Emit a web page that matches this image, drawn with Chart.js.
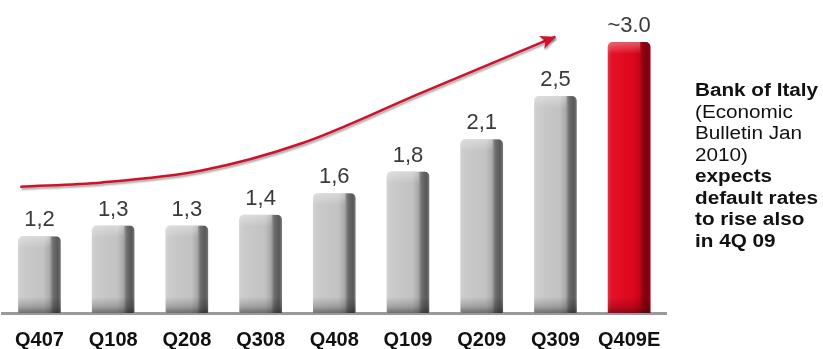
<!DOCTYPE html>
<html>
<head>
<meta charset="utf-8">
<script src="https://cdn.jsdelivr.net/npm/chart.js@4.4.0/dist/chart.umd.min.js"></script>
<style>
    html, body { margin: 0; padding: 0; background: #fff; }
    #wrap { position: relative; width: 823px; height: 349px; }
    #note {
        position: absolute;
        left: 695px;
        top: 80px;
        font: 18px "Liberation Sans", Arial, sans-serif;
        line-height: 21.5px;
        color: #111;
        white-space: nowrap;
        transform: scaleX(1.15);
        transform-origin: 0 0;
    }
</style>
</head>
<body>
<div id="wrap">
    <canvas id="chart" width="823" height="349"></canvas>
    <div id="note"><b>Bank of Italy</b><br>(Economic<br>Bulletin Jan<br>2010)<br><b>expects<br>default rates<br>to rise also<br>in 4Q 09</b></div>
</div>
<script>
// Quarters and default rates
const quarters = ["Q407", "Q108", "Q208", "Q308", "Q408", "Q109", "Q209", "Q309", "Q409E"];
const defaultRates = [1.2, 1.3, 1.3, 1.4, 1.6, 1.8, 2.1, 2.5, 3.0];
const rateLabels = ["1,2", "1,3", "1,3", "1,4", "1,6", "1,8", "2,1", "2,5", "~3.0"];
const isEstimate = [false, false, false, false, false, false, false, false, true];

// Trend arrow path (x in category units, y in rate units)
const trendX = [-0.26, 0.85, 2.2, 3.55, 5.18, 7.0];
const trendY = [1.66, 1.70, 1.81, 2.06, 2.53, 3.05];

// value axis window (bars stand on the floor at Y_MIN)
const Y_MIN = 0.49;
const Y_MAX = 3.39;

const GREY = "#c9c9c9";
const RED = "#e3061d";
const ARROW_RED = "#d1102a";

const barColors = isEstimate.map((e) => (e ? RED : GREY));
const trendPoints = trendX.map((x, i) => ({ x: x, y: trendY[i] }));

// Bevel / shading over each bar, then value labels on top
const barDecor = {
    id: "barDecor",
    afterDatasetsDraw(chart) {
        const ctx = chart.ctx;
        const meta = chart.getDatasetMeta(0);

        meta.data.forEach((bar, i) => {
            const { x, y, base, width } = bar.getProps(["x", "y", "base", "width"], true);
            const left = x - width / 2;
            const h = base - y;
            const dark = isEstimate[i] ? "60,0,8" : "20,20,20";

            ctx.save();
            ctx.beginPath();
            ctx.roundRect(left, y, width, h, [5, 5, 0, 0]);
            ctx.clip();

            // side shading, darker toward the right edge
            const gx = ctx.createLinearGradient(left, 0, left + width, 0);
            gx.addColorStop(0, "rgba(255,255,255,0.18)");
            gx.addColorStop(0.08, "rgba(255,255,255,0.05)");
            gx.addColorStop(0.6, "rgba(" + dark + ",0.04)");
            gx.addColorStop(0.74, "rgba(" + dark + ",0.18)");
            gx.addColorStop(0.82, "rgba(" + dark + ",0.50)");
            gx.addColorStop(0.93, "rgba(" + dark + ",0.62)");
            gx.addColorStop(1, "rgba(" + dark + ",0.45)");
            ctx.fillStyle = gx;
            ctx.fillRect(left, y, width, h);

            // top bevel highlight
            const gt = ctx.createLinearGradient(0, y, 0, y + 12);
            gt.addColorStop(0, "rgba(255,255,255,0.35)");
            gt.addColorStop(1, "rgba(255,255,255,0)");
            ctx.fillStyle = gt;
            ctx.fillRect(left, y, width * 0.76, 12);

            // shadow near the floor
            const gb = ctx.createLinearGradient(0, base - 16, 0, base);
            gb.addColorStop(0, "rgba(" + dark + ",0)");
            gb.addColorStop(0.6, "rgba(" + dark + ",0.22)");
            gb.addColorStop(1, "rgba(" + dark + ",0.5)");
            ctx.fillStyle = gb;
            ctx.fillRect(left, base - 16, width, 16);
            ctx.restore();

            // value label
            ctx.save();
            ctx.font = '22px "Liberation Sans", Arial, sans-serif';
            ctx.fillStyle = "#3a3a3a";
            ctx.textAlign = "center";
            ctx.textBaseline = "alphabetic";
            ctx.fillText(rateLabels[i], x, y - 10);
            ctx.restore();
        });

        // arrow head at the end of the trend line
        const xs = chart.scales.xt;
        const ys = chart.scales.y;
        const n = trendX.length;
        const tx = xs.getPixelForValue(trendX[n - 1]);
        const ty = ys.getPixelForValue(trendY[n - 1]);
        const px = xs.getPixelForValue(trendX[n - 2]);
        const py = ys.getPixelForValue(trendY[n - 2]);
        const ang = Math.atan2(ty - py, tx - px);

        ctx.save();
        ctx.translate(tx, ty);
        ctx.rotate(ang);
        ctx.shadowColor = "rgba(0,0,0,0.35)";
        ctx.shadowOffsetX = 1;
        ctx.shadowOffsetY = 2;
        ctx.shadowBlur = 2;
        ctx.fillStyle = ARROW_RED;
        ctx.beginPath();
        ctx.moveTo(0, 0);
        ctx.lineTo(-15, -7);
        ctx.lineTo(-11, 0);
        ctx.lineTo(-15, 7);
        ctx.closePath();
        ctx.fill();
        ctx.restore();
    },
};

// soft drop shadow under the trend line
const lineShadow = {
    id: "lineShadow",
    beforeDatasetDraw(chart, args) {
        if (args.index !== 1) return;
        const ctx = chart.ctx;
        ctx.save();
        ctx.shadowColor = "rgba(0,0,0,0.35)";
        ctx.shadowOffsetX = 1;
        ctx.shadowOffsetY = 2;
        ctx.shadowBlur = 2;
    },
    afterDatasetDraw(chart, args) {
        if (args.index !== 1) return;
        chart.ctx.restore();
    },
};

new Chart(document.getElementById("chart"), {
    data: {
        labels: quarters,
        datasets: [
            {
                type: "bar",
                data: defaultRates,
                base: Y_MIN,
                grouped: false,
                backgroundColor: barColors,
                borderRadius: { topLeft: 5, topRight: 5, bottomLeft: 0, bottomRight: 0 },
                borderSkipped: "bottom",
                barPercentage: 0.58,
                categoryPercentage: 1,
                order: 2,
            },
            {
                type: "line",
                data: trendPoints,
                xAxisID: "xt",
                borderColor: ARROW_RED,
                borderWidth: 2.5,
                pointRadius: 0,
                cubicInterpolationMode: "monotone",
                fill: false,
                order: 1,
            },
        ],
    },
    options: {
        responsive: false,
        animation: false,
        layout: { padding: { left: 0, right: 157, top: 0, bottom: 0 } },
        plugins: {
            legend: { display: false },
            tooltip: { enabled: false },
        },
        scales: {
            x: {
                type: "category",
                grid: { display: false, drawTicks: false },
                border: { display: true, color: "#9a9a9a", width: 3 },
                ticks: {
                    color: "#111",
                    padding: 15,
                    maxRotation: 0,
                    autoSkip: false,
                    font: { family: '"Liberation Sans", Arial, sans-serif', size: 20, weight: "bold" },
                },
                afterFit(scale) {
                    scale.height = 36;
                },
            },
            xt: {
                type: "linear",
                display: false,
                min: -0.5,
                max: 8.5,
            },
            y: {
                display: false,
                min: Y_MIN,
                max: Y_MAX,
            },
        },
    },
    plugins: [lineShadow, barDecor],
});
</script>
</body>
</html>
